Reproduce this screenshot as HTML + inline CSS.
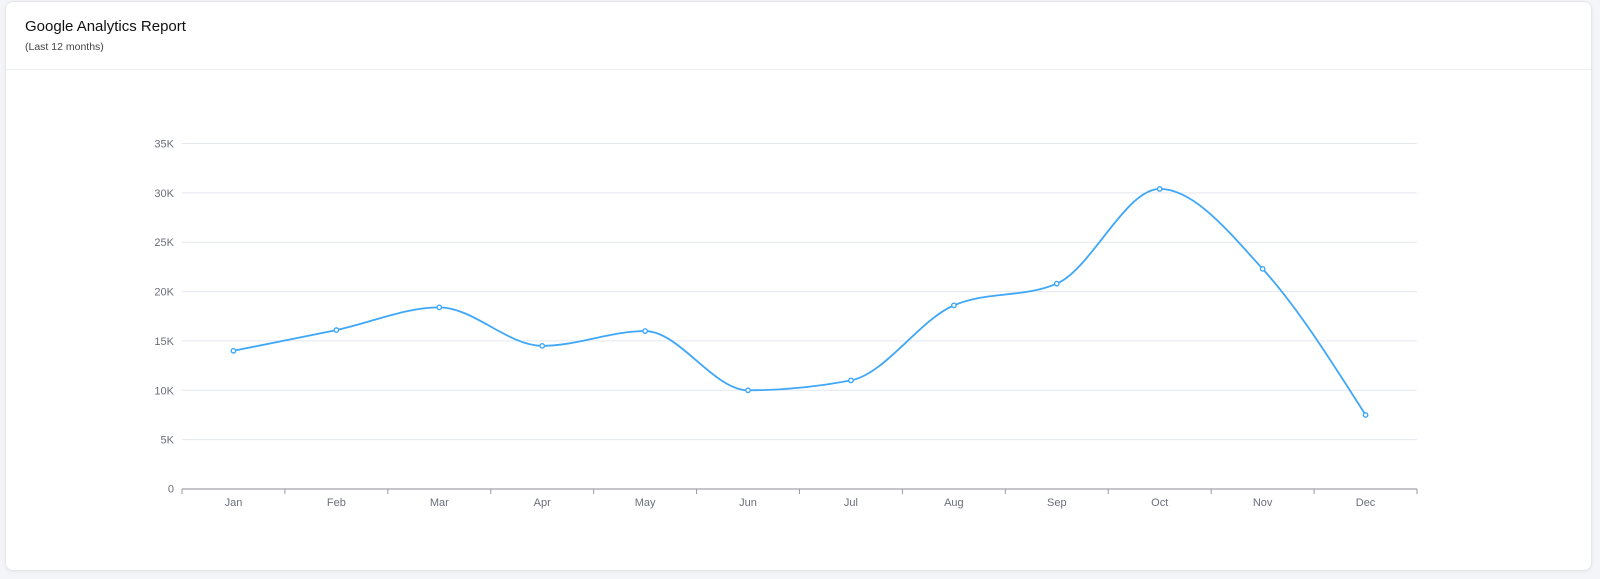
<!DOCTYPE html>
<html>
<head>
<meta charset="utf-8">
<style>
  html,body{margin:0;padding:0;}
  body{width:1600px;height:579px;background:#f4f5f8;position:relative;overflow:hidden;font-family:"Liberation Sans",Arial,sans-serif;}
  .card{position:absolute;left:5px;top:1px;width:1587px;height:570px;background:#fff;border:1px solid #e6e7eb;border-radius:8px;box-shadow:0 1px 3px rgba(0,0,0,0.06);box-sizing:border-box;}
  .title{position:absolute;left:19px;top:16px;font-size:15px;color:#111;letter-spacing:0;}
  .sub{position:absolute;left:19px;top:39px;font-size:10.5px;color:#444;}
  .divider{position:absolute;left:0;right:0;top:67px;height:1px;background:#eef0f3;}
  svg{position:absolute;left:0;top:0;}
</style>
</head>
<body>
<div class="card">
  <div class="title">Google Analytics Report</div>
  <div class="sub">(Last 12 months)</div>
  <div class="divider"></div>
</div>
<svg id="chart" width="1600" height="579" viewBox="0 0 1600 579" xmlns="http://www.w3.org/2000/svg">
  <g stroke="#e3e8f1" stroke-width="1">
    <line x1="182" y1="143.5" x2="1417" y2="143.5"/>
    <line x1="182" y1="192.9" x2="1417" y2="192.9"/>
    <line x1="182" y1="242.2" x2="1417" y2="242.2"/>
    <line x1="182" y1="291.6" x2="1417" y2="291.6"/>
    <line x1="182" y1="340.9" x2="1417" y2="340.9"/>
    <line x1="182" y1="390.3" x2="1417" y2="390.3"/>
    <line x1="182" y1="439.6" x2="1417" y2="439.6"/>
  </g>
  <g font-family="Liberation Sans, Arial, sans-serif" font-size="11" fill="#6b6f7a" text-anchor="end">
    <text x="174" y="147.5">35K</text>
    <text x="174" y="196.9">30K</text>
    <text x="174" y="246.2">25K</text>
    <text x="174" y="295.6">20K</text>
    <text x="174" y="344.9">15K</text>
    <text x="174" y="394.3">10K</text>
    <text x="174" y="443.6">5K</text>
    <text x="174" y="492.5">0</text>
  </g>
  <line x1="182" y1="489" x2="1417" y2="489" stroke="#b4b4b8" stroke-width="1.6"/>
  <g id="ticks" stroke="#9a9aa0" stroke-width="1"></g>
  <g id="xl" font-family="Liberation Sans, Arial, sans-serif" font-size="11" fill="#6b6f7a" text-anchor="middle"></g>
  <path id="line" fill="none" stroke="#3fa7f7" stroke-width="1.8"/>
  <g id="markers" fill="#fff" stroke="#3fa7f7" stroke-width="1.4"></g>
</svg>
<script>
(function(){
  var vals=[14000,16100,18400,14500,16000,10000,11000,18600,20800,30400,22300,7500];
  var months=["Jan","Feb","Mar","Apr","May","Jun","Jul","Aug","Sep","Oct","Nov","Dec"];
  var x0=182,w=(1417-182)/12,yb=489,yt=143.5;
  var ns="http://www.w3.org/2000/svg";
  var xs=[],ys=[];
  for(var i=0;i<12;i++){xs.push(x0+w*(i+0.5));ys.push(yb-vals[i]/35000*(yb-yt));}
  var ticks=document.getElementById("ticks"),xl=document.getElementById("xl");
  for(var i=0;i<=12;i++){
    var l=document.createElementNS(ns,"line");
    var xx=x0+w*i;
    l.setAttribute("x1",xx);l.setAttribute("x2",xx);l.setAttribute("y1",489);l.setAttribute("y2",494);
    ticks.appendChild(l);
  }
  for(var i=0;i<12;i++){
    var t=document.createElementNS(ns,"text");
    t.setAttribute("x",xs[i]);t.setAttribute("y",506);t.textContent=months[i];
    xl.appendChild(t);
  }
  // monotone X (d3 style)
  var n=12,h=w,s=[],t=[];
  for(var i=0;i<n-1;i++)s.push((ys[i+1]-ys[i])/h);
  function sign(v){return v<0?-1:1;}
  for(var i=1;i<n-1;i++){
    var s0=s[i-1],s1=s[i],p=(s0+s1)/2;
    t[i]=(sign(s0)+sign(s1))*Math.min(Math.abs(s0),Math.abs(s1),0.5*Math.abs(p))||0;
  }
  t[0]=(3*s[0]-t[1])/2;
  t[n-1]=(3*s[n-2]-t[n-2])/2;
  var d="M"+xs[0]+","+ys[0];
  for(var i=0;i<n-1;i++){
    var dx=h/3;
    d+=" C"+(xs[i]+dx)+","+(ys[i]+dx*t[i])+" "+(xs[i+1]-dx)+","+(ys[i+1]-dx*t[i+1])+" "+xs[i+1]+","+ys[i+1];
  }
  document.getElementById("line").setAttribute("d",d);
  var mk=document.getElementById("markers");
  for(var i=0;i<n;i++){
    var c=document.createElementNS(ns,"circle");
    c.setAttribute("cx",xs[i]);c.setAttribute("cy",ys[i]);c.setAttribute("r",2.2);
    mk.appendChild(c);
  }
})();
</script>
</body>
</html>
